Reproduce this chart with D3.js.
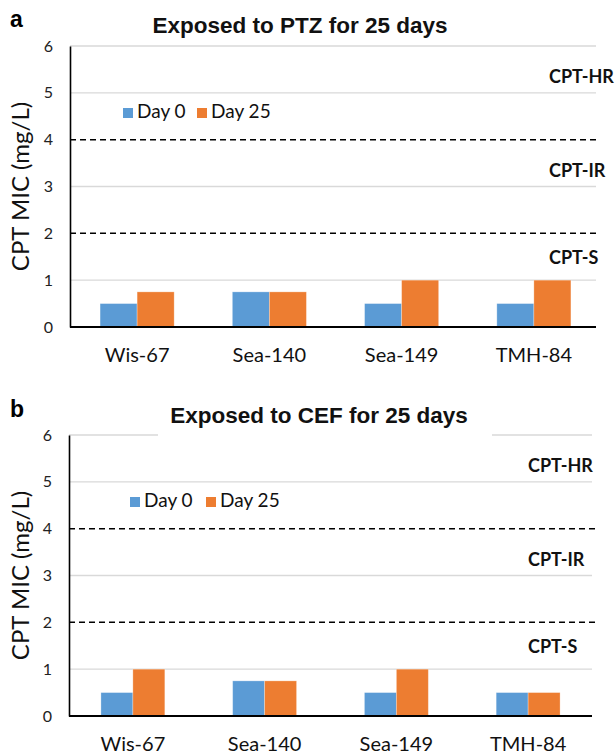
<!DOCTYPE html>
<html>
<head>
<meta charset="utf-8">
<script src="https://cdn.jsdelivr.net/npm/d3@7"></script>
<style>
  body { margin: 0; background: #fff; }
  svg { display: block; }
</style>
</head>
<body>
<div></div>
<script>
var width = 616;
var height = 754;

// data
var strains = ["Wis-67", "Sea-140", "Sea-149", "TMH-84"];
var series = ["Day 0", "Day 25"];
var ptzDay0 = [0.5, 0.75, 0.5, 0.5];
var ptzDay25 = [0.75, 0.75, 1, 1];
var cefDay0 = [0.5, 0.75, 0.5, 0.5];
var cefDay25 = [1, 0.75, 1, 0.5];
var yTicks = [0, 1, 2, 3, 4, 5, 6];
var cutoffs = [2, 4];
var zoneLabels = ["CPT-S", "CPT-IR", "CPT-HR"];
var zoneValues = [1.35, 3.2, 5.2];

var colors = ["#5B9BD5", "#ED7D31"];
var sans = "Lato, 'Open Sans', sans-serif";

var svg = d3.select("div")
	.append("svg")
	.attr("width", width)
	.attr("height", height);

function drawPanel(p) {
	var g = svg.append("g");

	var y = d3.scaleLinear().domain([0, 6]).range([p.bottom, p.top]);
	var x = d3.scaleBand().domain(strains).range(p.band).paddingInner(p.pad).paddingOuter(p.pad / 2);
	var xs = d3.scaleBand().domain(series).range([0, x.bandwidth()]);

	// gridlines
	g.append("g")
		.selectAll("line")
		.data(yTicks.filter(t => t > 0 && cutoffs.indexOf(t) < 0))
		.enter()
		.append("line")
		.attr("x1", p.left)
		.attr("x2", p.gridEnd)
		.attr("y1", d => y(d))
		.attr("y2", d => y(d))
		.attr("stroke", "#d9d9d9")
		.attr("stroke-width", 1.3);

	// dashed cutoffs
	g.append("g")
		.selectAll("line")
		.data(cutoffs)
		.enter()
		.append("line")
		.attr("x1", p.left)
		.attr("x2", p.dashEnd)
		.attr("y1", d => y(d))
		.attr("y2", d => y(d))
		.attr("stroke", "#000")
		.attr("stroke-width", 1.5)
		.attr("stroke-dasharray", "6,4");

	// bars
	var rows = strains.map((s, i) => ({ strain: s, vals: [p.d0[i], p.d25[i]] }));
	g.append("g")
		.selectAll("g")
		.data(rows)
		.enter()
		.append("g")
		.attr("transform", d => "translate(" + x(d.strain) + ",0)")
		.selectAll("rect")
		.data(d => d.vals.map((v, j) => ({ key: series[j], v: v, j: j })))
		.enter()
		.append("rect")
		.attr("x", d => xs(d.key))
		.attr("width", xs.bandwidth())
		.attr("y", d => y(d.v))
		.attr("height", d => y(0) - y(d.v))
		.attr("fill", d => colors[d.j])
		.attr("stroke", "#fff")
		.attr("stroke-opacity", 0.35)
		.attr("stroke-width", 0.8);

	// y axis
	var yAxis = d3.axisLeft(y).tickValues(yTicks).tickFormat(d3.format("d")).tickSize(0).tickPadding(17);
	var ya = g.append("g")
		.attr("transform", "translate(" + p.left + ",0)")
		.call(yAxis);
	ya.select(".domain").attr("stroke", "#000").attr("stroke-width", 1.6);
	ya.selectAll("text")
		.attr("font-family", sans)
		.attr("font-size", 16)
		.attr("fill", "#222");

	// x axis
	var xAxis = d3.axisBottom(x).tickSize(0).tickPadding(21);
	var xa = g.append("g")
		.attr("transform", "translate(0," + p.bottom + ")")
		.call(xAxis);
	xa.select(".domain").remove();
	xa.selectAll("text")
		.attr("font-family", sans)
		.attr("font-size", 20)
		.attr("fill", "#111");
	g.append("line")
		.attr("x1", p.left)
		.attr("x2", p.gridEnd)
		.attr("y1", y(0))
		.attr("y2", y(0))
		.attr("stroke", "#000")
		.attr("stroke-width", 2);

	// zone labels
	g.append("g")
		.selectAll("text")
		.data(zoneLabels)
		.enter()
		.append("text")
		.attr("x", p.zoneX)
		.attr("y", (d, i) => y(zoneValues[i]))
		.attr("font-family", sans)
		.attr("font-weight", "bold")
		.attr("font-size", 18)
		.attr("fill", "#111")
		.text(d => d);

	// title
	if (p.titleMask) {
		g.append("rect")
			.attr("x", p.titleMask[0])
			.attr("width", p.titleMask[1] - p.titleMask[0])
			.attr("y", p.top - 8)
			.attr("height", 10)
			.attr("fill", "#fff");
	}
	g.append("text")
		.attr("x", p.titleX)
		.attr("y", p.titleY)
		.attr("text-anchor", "middle")
		.attr("font-family", "'Liberation Sans', Arial, sans-serif")
		.attr("font-weight", "bold")
		.attr("font-size", 22.5)
		.attr("fill", "#111")
		.text(p.title);

	g.append("text")
		.attr("x", 10)
		.attr("y", p.letterY)
		.attr("font-family", "'Liberation Sans', Arial, sans-serif")
		.attr("font-weight", "bold")
		.attr("font-size", 23)
		.attr("fill", "#000")
		.text(p.letter);

	// y title
	g.append("text")
		.attr("transform", "translate(" + 29 + "," + y(3) + ") rotate(-90)")
		.attr("text-anchor", "middle")
		.attr("font-family", sans)
		.attr("font-size", 24)
		.attr("fill", "#111")
		.text("CPT MIC (mg/L)");

	// legend
	var lg = g.append("g")
		.selectAll("g")
		.data(series)
		.enter()
		.append("g")
		.attr("transform", (d, i) => "translate(" + p.legend[i] + "," + p.legendY + ")");
	lg.append("rect")
		.attr("x", 0)
		.attr("y", -10)
		.attr("width", 10)
		.attr("height", 10)
		.attr("fill", (d, i) => colors[i]);
	lg.append("text")
		.attr("x", 14)
		.attr("y", 0)
		.attr("font-family", sans)
		.attr("font-size", 19)
		.attr("fill", "#111")
		.text(d => d);
}

drawPanel({
	letter: "a", letterY: 27,
	title: "Exposed to PTZ for 25 days", titleX: 300, titleY: 33,
	top: 46, bottom: 327, left: 70, gridEnd: 596, dashEnd: 599,
	band: [71, 600], pad: 0.44,
	d0: ptzDay0, d25: ptzDay25,
	zoneX: 549,
	legend: [123, 197], legendY: 118
});

drawPanel({
	letter: "b", letterY: 417,
	title: "Exposed to CEF for 25 days", titleX: 319, titleY: 423,
	titleMask: [158, 492],
	top: 435, bottom: 716, left: 69, gridEnd: 592, dashEnd: 596,
	band: [67, 594], pad: 0.515,
	d0: cefDay0, d25: cefDay25,
	zoneX: 528,
	legend: [130, 206], legendY: 507
});
</script>
</body>
</html>
